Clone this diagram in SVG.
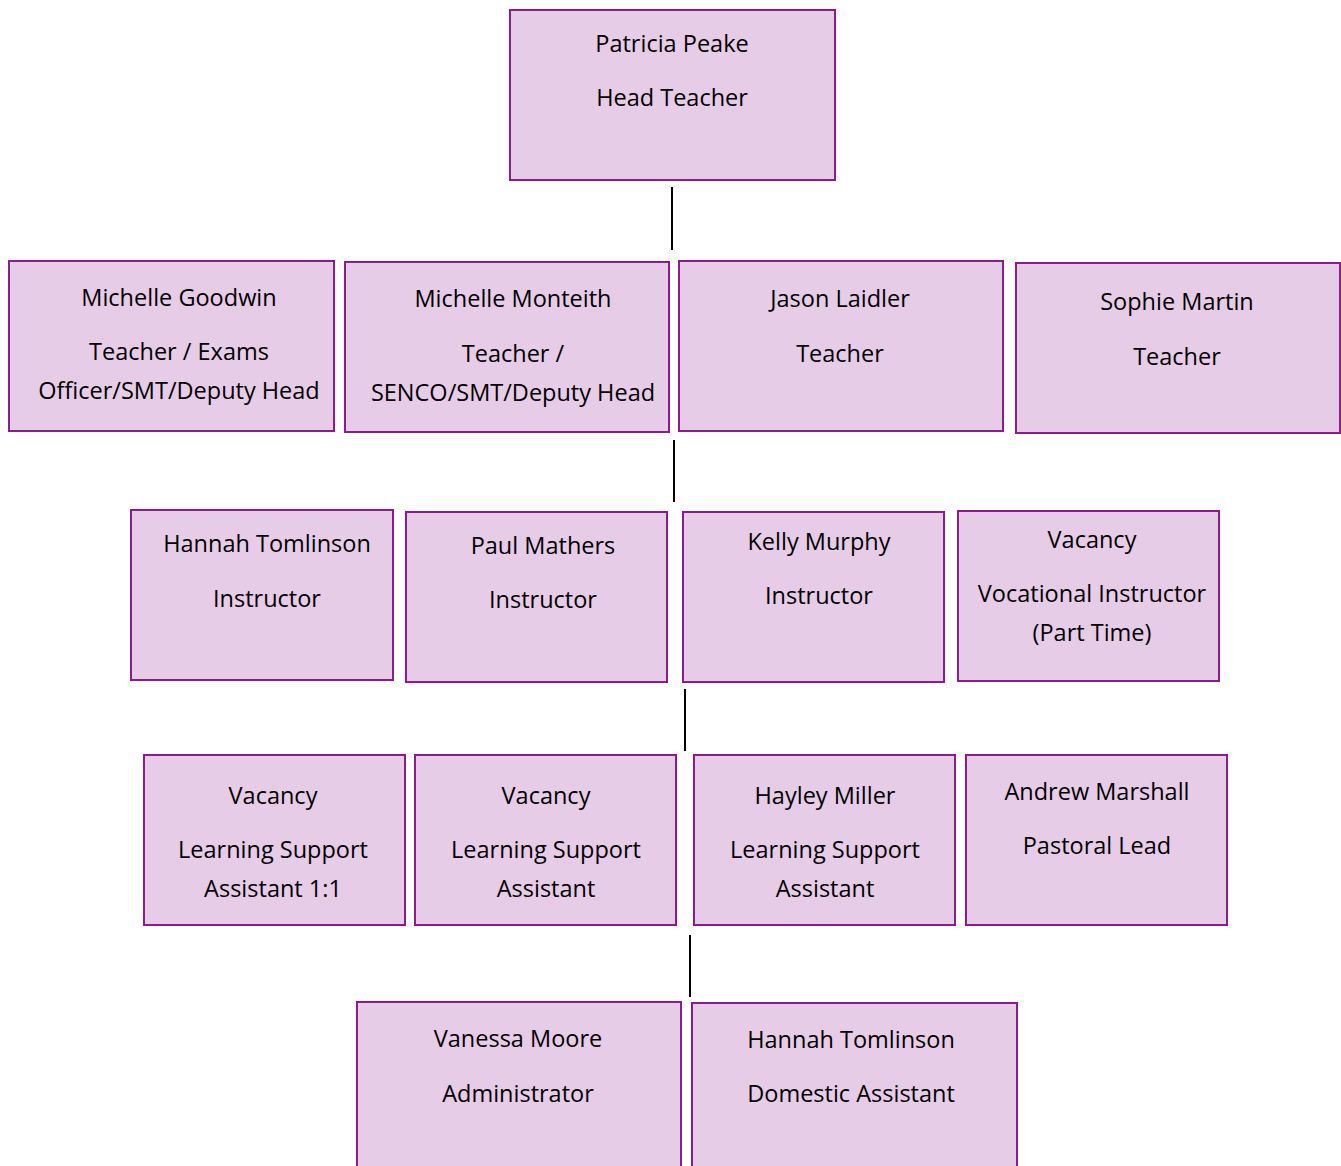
<svg xmlns="http://www.w3.org/2000/svg" width="1341" height="1166" viewBox="0 0 1341 1166">
<style>
.box{fill:#E6CCE6;stroke:#8E1B8E;stroke-width:2}
text{font-family:"Open Sans","Noto Sans",sans-serif;font-size:23.5px;fill:#000;text-anchor:middle}
.conn{stroke:#000;stroke-width:2}
</style>
<rect width="1341" height="1166" fill="#fff"/>
<g id="connectors">
<line class="conn" x1="672" y1="187" x2="672" y2="250"/>
<line class="conn" x1="674" y1="440" x2="674" y2="502"/>
<line class="conn" x1="685" y1="689" x2="685" y2="751"/>
<line class="conn" x1="690" y1="935" x2="690" y2="997"/>
</g>
<g id="patricia-peake"><rect class="box" x="510" y="10" width="325" height="170"/><text x="672" y="52">Patricia Peake</text><text x="672" y="106">Head Teacher</text></g>
<g id="michelle-goodwin"><rect class="box" x="9" y="261" width="325" height="170"/><text x="179" y="306">Michelle Goodwin</text><text x="179" y="360">Teacher / Exams</text><text x="179" y="399">Officer/SMT/Deputy Head</text></g>
<g id="michelle-monteith"><rect class="box" x="345" y="262" width="324" height="170"/><text x="513" y="307">Michelle Monteith</text><text x="513" y="362">Teacher /</text><text x="513" y="401">SENCO/SMT/Deputy Head</text></g>
<g id="jason-laidler"><rect class="box" x="679" y="261" width="324" height="170"/><text x="840" y="307">Jason Laidler</text><text x="840" y="362">Teacher</text></g>
<g id="sophie-martin"><rect class="box" x="1016" y="263" width="324" height="170"/><text x="1177" y="310">Sophie Martin</text><text x="1177" y="365">Teacher</text></g>
<g id="hannah-tomlinson-instructor"><rect class="box" x="131" y="510" width="262" height="170"/><text x="267" y="552">Hannah Tomlinson</text><text x="267" y="607">Instructor</text></g>
<g id="paul-mathers"><rect class="box" x="406" y="512" width="261" height="170"/><text x="543" y="554">Paul Mathers</text><text x="543" y="608">Instructor</text></g>
<g id="kelly-murphy"><rect class="box" x="683" y="512" width="261" height="170"/><text x="819" y="550">Kelly Murphy</text><text x="819" y="604">Instructor</text></g>
<g id="vacancy-vocational"><rect class="box" x="958" y="511" width="261" height="170"/><text x="1092" y="548">Vacancy</text><text x="1092" y="602">Vocational Instructor</text><text x="1092" y="641">(Part Time)</text></g>
<g id="vacancy-lsa-1to1"><rect class="box" x="144" y="755" width="261" height="170"/><text x="273" y="804">Vacancy</text><text x="273" y="858">Learning Support</text><text x="273" y="897">Assistant 1:1</text></g>
<g id="vacancy-lsa"><rect class="box" x="415" y="755" width="261" height="170"/><text x="546" y="804">Vacancy</text><text x="546" y="858">Learning Support</text><text x="546" y="897">Assistant</text></g>
<g id="hayley-miller"><rect class="box" x="694" y="755" width="261" height="170"/><text x="825" y="804">Hayley Miller</text><text x="825" y="858">Learning Support</text><text x="825" y="897">Assistant</text></g>
<g id="andrew-marshall"><rect class="box" x="966" y="755" width="261" height="170"/><text x="1097" y="800">Andrew Marshall</text><text x="1097" y="854">Pastoral Lead</text></g>
<g id="vanessa-moore"><rect class="box" x="357" y="1002" width="324" height="172"/><text x="518" y="1047">Vanessa Moore</text><text x="518" y="1102">Administrator</text></g>
<g id="hannah-tomlinson-domestic"><rect class="box" x="692" y="1003" width="325" height="172"/><text x="851" y="1048">Hannah Tomlinson</text><text x="851" y="1102">Domestic Assistant</text></g>
</svg>
